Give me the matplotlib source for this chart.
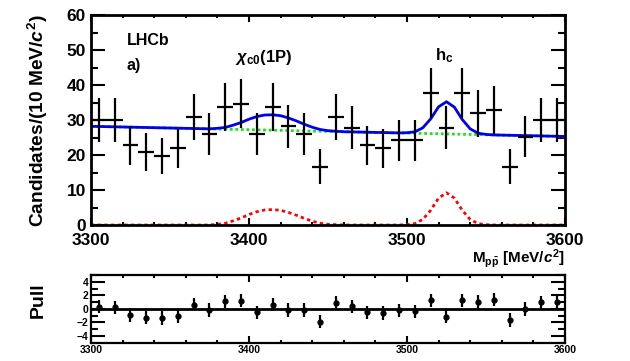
import numpy as np
import matplotlib
matplotlib.use("Agg")
import matplotlib.pyplot as plt
from matplotlib.ticker import MultipleLocator

plt.rcParams['font.family'] = ['Liberation Sans', 'DejaVu Sans']
plt.rcParams['font.weight'] = 'bold'
plt.rcParams['mathtext.fontset'] = 'custom'
plt.rcParams['mathtext.rm'] = 'Liberation Sans:bold'
plt.rcParams['mathtext.bf'] = 'Liberation Sans:bold'
plt.rcParams['mathtext.it'] = 'Liberation Sans:italic:bold'

# data: M(p pbar) bin centres, candidates per 10 MeV
mass = [3305, 3315, 3325, 3335, 3345, 3355, 3365, 3375, 3385, 3395,
        3405, 3415, 3425, 3435, 3445, 3455, 3465, 3475, 3485, 3495,
        3505, 3515, 3525, 3535, 3545, 3555, 3565, 3575, 3585, 3595]
counts = [30.0, 30.0, 22.8, 20.9, 19.7, 21.9, 30.8, 25.9, 33.8, 34.7,
          26.1, 33.8, 28.2, 26.1, 16.7, 30.8, 27.8, 22.8, 21.9, 24.2,
          24.2, 37.8, 27.8, 37.8, 31.9, 32.9, 16.7, 25.2, 30.0, 30.0]
errors = [6.4, 6.4, 5.6, 5.4, 5.2, 5.5, 6.5, 6.0, 6.8, 6.9,
          6.0, 6.8, 6.2, 6.0, 4.9, 6.5, 6.2, 5.6, 5.5, 5.8,
          5.8, 7.2, 6.2, 7.2, 6.7, 6.8, 4.9, 5.9, 6.4, 6.4]
pulls = [0.3, 0.2, -0.9, -1.3, -1.4, -1.05, 0.6, -0.15, 1.1, 1.2,
         -0.55, 0.6, -0.15, -0.15, -1.9, 0.85, 0.35, -0.55, -0.65, -0.25,
         -0.4, 1.25, -1.15, 1.25, 1.0, 1.35, -1.65, -0.05, 0.95, 0.95]

# fit components
bkg_m = [3300, 3600]
bkg_y = [28.2, 25.3]
fit_m = np.arange(3300, 3605, 5)
signal = [0, 0, 0, 0, 0, 0, 0, 0, 0, 0, 0, 0, 0, 0, 0, 0,
          0.2, 0.5, 1.2, 2.0, 3.0, 3.8, 4.3, 4.4, 4.2, 3.6, 2.8, 1.9, 1.1, 0.5, 0.2, 0.1,
          0, 0, 0, 0, 0, 0, 0, 0,
          0.1, 0.4, 1.6, 4.2, 7.7, 9.2, 7.7, 4.2, 1.6, 0.4, 0.1,
          0, 0, 0, 0, 0, 0, 0, 0, 0, 0]

bkg_fit = np.interp(fit_m, bkg_m, bkg_y)
total = bkg_fit + np.array(signal)

fig = plt.figure(figsize=(6.3, 3.61), dpi=100)
ax = fig.add_axes([0.1444, 0.3767, 0.7524, 0.5817])
axp = fig.add_axes([0.1444, 0.0512, 0.7524, 0.187])

ax.plot(fit_m, signal, color='red', lw=2, ls=(0, (1.2, 1.2)))
ax.plot(bkg_m, bkg_y, color='#22dd22', lw=2, ls=(0, (1, 1)))
ax.plot(fit_m, total, color='#0000ee', lw=2)
ax.errorbar(mass, counts, yerr=errors, xerr=5, fmt='none', ecolor='black',
            elinewidth=1.6, capsize=0)

ax.set_xlim(3300, 3600)
ax.set_ylim(0, 60)
ax.xaxis.set_major_locator(MultipleLocator(100))
ax.xaxis.set_minor_locator(MultipleLocator(20))
ax.yaxis.set_major_locator(MultipleLocator(10))
ax.yaxis.set_minor_locator(MultipleLocator(5))
ax.tick_params(which='both', direction='in', top=True, right=True, width=1.5,
               labelsize=12.5)
ax.tick_params(axis='y', which='major', length=10)
ax.tick_params(axis='y', which='minor', length=5)
ax.tick_params(axis='x', which='major', length=5, pad=6)
ax.tick_params(axis='x', which='minor', length=2.5)
for s in ax.spines.values():
    s.set_linewidth(2)

fig.text(37.5 / 630, 1 - 121 / 361, r'Candidates/(10 MeV/$c^{2}$)', rotation=90,
         ha='center', va='center', fontsize=13.8, fontweight='bold')
ax.text(1.0, -0.105, r'M$_{\mathrm{p\bar{p}}}$ [MeV/$c^{2}$]', transform=ax.transAxes,
        ha='right', va='top', fontsize=11, fontweight='bold')
ax.text(0.075, 0.88, 'LHCb', transform=ax.transAxes, fontsize=11.5, fontweight='bold',
        va='center')
ax.text(0.075, 0.76, 'a)', transform=ax.transAxes, fontsize=11.5, fontweight='bold',
        va='center')
ax.text(3391, 48, r'$\chi_{\mathrm{c0}}$(1P)', fontsize=12, fontweight='bold',
        va='center')
ax.text(3518, 48.5, r'h$_{\mathrm{c}}$', fontsize=12, fontweight='bold',
        va='center')

# pull panel
axp.axhline(0, color='black', lw=2)
axp.errorbar(mass, pulls, yerr=1, fmt='o', ms=3.5, color='black',
             elinewidth=1.6, capsize=0)
axp.set_xlim(3300, 3600)
axp.set_ylim(-5, 5)
axp.xaxis.set_major_locator(MultipleLocator(100))
axp.xaxis.set_minor_locator(MultipleLocator(20))
axp.yaxis.set_major_locator(MultipleLocator(2))
axp.yaxis.set_minor_locator(MultipleLocator(1))
axp.tick_params(which='both', direction='in', top=True, right=True, width=1.5,
                labelsize=7.5, pad=2)
axp.tick_params(axis='y', which='major', length=10)
axp.tick_params(axis='y', which='minor', length=5)
axp.tick_params(axis='x', which='major', length=5)
axp.tick_params(axis='x', which='minor', length=2.5)
for s in axp.spines.values():
    s.set_linewidth(1.6)
fig.text(38 / 630, 1 - 300 / 361, 'Pull', rotation=90, ha='center', va='center',
         fontsize=14, fontweight='bold')

fig.savefig('out.png', dpi=100)
